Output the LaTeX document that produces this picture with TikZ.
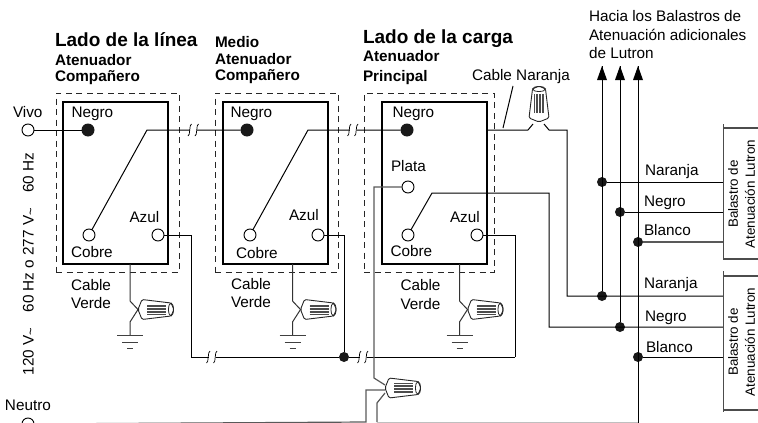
\documentclass[tikz,border=0pt]{standalone}
\usepackage{fontspec}
\setmainfont{Liberation Sans}
\newcommand{\smalltilde}{{\fontsize{13}{13}\selectfont\raisebox{-1.5pt}{\textasciitilde}}}
\tikzset{
  wirenut/.pic={
    \draw[black!85,fill=white,line width=0.9pt,rounded corners=1.5pt] (0,0) -- (4,-10) -- (33,-6.5) -- (36,0) -- (33,6.5) -- (4,10) -- cycle;
    \draw[black!85,line width=0.8pt] (33,0) ellipse (2.5pt and 6.5pt);
    \foreach \ribY in {-4.5,-3,-1.5,0,1.5,3,4.5}
      \draw[black!70,line width=0.8pt] (9,\ribY) -- (28,\ribY);
  },
  wirebreak/.pic={
    \fill[white] (-3.5,-3) rectangle (3.5,3);
    \draw[black,line width=0.7pt] (-5.5,6) .. controls (-3,6) and (-4.5,-6) .. (-2,-6);
    \draw[black,line width=0.7pt] (1.5,6) .. controls (4,6) and (2.5,-6) .. (5,-6);
  },
  grounding/.pic={
    \draw[black!75,line width=0.9pt] (-13,0) -- (13,0);
    \draw[black!75,line width=0.9pt] (-8,7) -- (8,7);
    \draw[black!75,line width=0.9pt] (-3,13) -- (3,13);
  }
}
\begin{document}
\begin{tikzpicture}[x=1pt, y=-1pt,
      every node/.append style={inner sep=0pt,outer sep=0pt,font=\fontsize{15.3}{18.5}\selectfont}]
    \tikzstyle{term} = [circle,draw=black,fill=white,line width=0.9pt,minimum size=12pt]
    \tikzstyle{dotblack} = [circle,fill=black!90,minimum size=13pt]
    \tikzstyle{joint} = [circle,fill=black!90,minimum size=10pt]
    \tikzstyle{unitbox} = [draw=black,line width=1.4pt,minimum width=105pt,minimum height=162pt]
    \tikzstyle{unitzone} = [draw=black!85,line width=1pt,dash pattern=on 6pt off 4.5pt]
    \tikzstyle{lbl} = [anchor=base west]
    \tikzstyle{para} = [anchor=base west,align=left]
    \tikzstyle{head} = [anchor=base west,align=left,font=\fontsize{15.3}{16.5}\selectfont\bfseries]
    \tikzstyle{bighead} = [anchor=base west,font=\fontsize{19}{20}\selectfont\bfseries]
    \tikzstyle{ballast} = [rotate=90,align=center,font=\fontsize{13.4}{17}\selectfont]
    \tikzstyle{wire} = [draw=black,line width=1pt]
    \tikzstyle{graywire} = [draw=black!65,line width=1.2pt]
    \tikzstyle{rail} = [draw=black!70,line width=1.2pt]
    \useasboundingbox (0,0) rectangle (758,423);

    \node (zoneA) [unitzone,minimum width=123pt,minimum height=179pt] at (117.5,182.5) {};
    \node (zoneB) [unitzone,minimum width=123pt,minimum height=179pt] at (276.5,182.5) {};
    \node (zoneC) [unitzone,minimum width=130pt,minimum height=179pt] at (429,182.5) {};
    \node (boxA) [unitbox] at (115.5,183) {};
    \node (boxB) [unitbox] at (275.5,183) {};
    \node (boxC) [unitbox] at (434.5,183) {};

    \node (vivo) [term] at (28,130) {};
    \node (neutro) [term] at (28,424) {};
    \node (negroA) [dotblack] at (88,130) {};
    \node (negroB) [dotblack] at (247,130) {};
    \node (negroC) [dotblack] at (407,130) {};
    \node (cobreA) [term] at (89,235) {};
    \node (cobreB) [term] at (250,235) {};
    \node (cobreC) [term] at (408,235) {};
    \node (azulA) [term] at (158,235) {};
    \node (azulB) [term] at (318,235) {};
    \node (azulC) [term] at (477,235) {};
    \node (plata) [term] at (408,187) {};
    \node (jointAzul) [joint] at (344,357) {};
    \node (jointNaranjaA) [joint] at (602,182) {};
    \node (jointNegroA) [joint] at (620,212) {};
    \node (jointBlancoA) [joint] at (638,242) {};
    \node (jointNaranjaB) [joint] at (602,296) {};
    \node (jointNegroB) [joint] at (620,327) {};
    \node (jointBlancoB) [joint] at (638,357) {};

    \coordinate (swA) at (147,130);
    \coordinate (swB) at (308,130);
    \coordinate (swC) at (432,193);
    \coordinate (swCcorner) at (549,193);
    \coordinate (busA) at (191,357);
    \coordinate (busC) at (515,357);
    \coordinate (platacorner) at (374,187);
    \coordinate (platabend) at (374,378);
    \coordinate (naranjaOut) at (487,130);
    \coordinate (naranjaIn) at (528,130);
    \coordinate (naranjaNutL) at (533,124);
    \coordinate (naranjaNutR) at (544,124);
    \coordinate (naranjaOn) at (549,130);
    \coordinate (naranjaCorner) at (567,130);
    \coordinate (leaderTop) at (513,86);
    \coordinate (leaderEnd) at (503,128);
    \coordinate (negroCorner) at (549,327);
    \coordinate (naranjaLow) at (567,296);
    \coordinate (arrowA) at (602,66);
    \coordinate (arrowB) at (620,66);
    \coordinate (arrowC) at (638,66);
    \coordinate (railTopA) at (723.5,124);
    \coordinate (railEndA) at (723.5,259);
    \coordinate (railTopB) at (723.5,271);
    \coordinate (railEndB) at (723.5,412);
    \coordinate (tickA) at (758,128);
    \coordinate (tickB) at (758,259);
    \coordinate (tickC) at (758,276);
    \coordinate (tickD) at (758,410);
    \coordinate (railNaranjaA) at (723.5,182);
    \coordinate (railNegroA) at (723.5,212);
    \coordinate (railBlancoA) at (723.5,242);
    \coordinate (railNaranjaB) at (723.5,296);
    \coordinate (railNegroB) at (723.5,327);
    \coordinate (railBlancoB) at (723.5,357);
    \coordinate (blancoEnd) at (638,423);
    \coordinate (neutroEnd) at (366,422);
    \coordinate (neutroNut) at (385,390);
    \coordinate (blancoNutA) at (385,393);
    \coordinate (blancoNutB) at (377,403);
    \coordinate (blancoFoot) at (377,422);
    \coordinate (neutroTurn) at (366,390);
    \coordinate (platahit) at (385,385);

    \draw[wire] (vivo) -- (negroA);
    \draw[wire] (cobreA) -- (swA) -- (negroB);
    \draw[wire] (cobreB) -- (swB) -- (negroC);
    \draw[wire] (cobreC) -- (swC) -- (swCcorner) -- (negroCorner) -- (railNegroB);
    \draw[wire] (azulA) -| (busA) -- (jointAzul) -- (busC);
    \draw[wire] (azulB) -| (jointAzul);
    \draw[wire] (azulC) -| (busC);
    \draw[wire] (naranjaOut) -- (naranjaIn) -- (naranjaNutL);
    \draw[wire] (naranjaNutR) -- (naranjaOn) -- (naranjaCorner) -- (naranjaLow) -- (railNaranjaB);
    \draw[wire] (leaderTop) -- (leaderEnd);
    \draw[graywire] (plata) -- (platacorner) -- (platabend) -- (platahit);
    \draw[graywire] (neutro) -- (neutroEnd) -- (neutroTurn) -- (neutroNut);
    \draw[graywire] (blancoFoot) -- (blancoNutB) -- (blancoNutA);
    \draw[black!25,line width=1pt] (blancoFoot) -- (blancoEnd |- blancoFoot);
    \draw[wire] (jointNaranjaB) -- (arrowA);
    \draw[wire] (jointNegroB) -- (arrowB);
    \draw[wire] (blancoEnd) -- (arrowC);
    \draw[wire] (jointNaranjaA) -- (railNaranjaA);
    \draw[wire] (jointNegroA) -- (railNegroA);
    \draw[graywire] (jointBlancoA) -- (railBlancoA);
    \draw[wire] (jointBlancoB) -- (railBlancoB);
    \draw[rail] (railTopA) -- (railEndA) -- (tickB);
    \draw[rail] (railTopA |- tickA) -- (tickA);
    \draw[rail] (railTopB) -- (railEndB);
    \draw[rail] (railTopB |- tickC) -- (tickC);
    \draw[rail] (railTopB |- tickD) -- (tickD);

    \fill[black] (arrowA) -- ++(5,14) -- ++(-10,0) -- cycle;
    \fill[black] (arrowB) -- ++(5,14) -- ++(-10,0) -- cycle;
    \fill[black] (arrowC) -- ++(5,14) -- ++(-10,0) -- cycle;

    \coordinate (greenA) at (130,264);
    \coordinate (greenAb) at (130,301);
    \coordinate (greenAc) at (130,322);
    \coordinate (groundA) at (130,335.5);
    \coordinate (nutA) at (138,309.5);
    \coordinate (greenB) at (292.5,264);
    \coordinate (greenBb) at (292.5,301);
    \coordinate (greenBc) at (292.5,322);
    \coordinate (groundB) at (292.5,335.5);
    \coordinate (nutB) at (300.5,309.5);
    \coordinate (greenC) at (459.5,264);
    \coordinate (greenCb) at (459.5,301);
    \coordinate (greenCc) at (459.5,322);
    \coordinate (groundC) at (459.5,335.5);
    \coordinate (nutC) at (467.5,309.5);

    \draw[wire,draw=black!80] (greenA) -- (greenAb) -- (nutA) -- (greenAc) -- (groundA);
    \draw[wire,draw=black!80] (greenB) -- (greenBb) -- (nutB) -- (greenBc) -- (groundB);
    \draw[wire,draw=black!80] (greenC) -- (greenCb) -- (nutC) -- (greenCc) -- (groundC);
    \pic at (groundA) {grounding};
    \pic at (groundB) {grounding};
    \pic at (groundC) {grounding};
    \pic at (nutA) {wirenut};
    \pic at (nutB) {wirenut};
    \pic at (nutC) {wirenut};
    \pic at (385,388) {wirenut};
    \pic[rotate=90] at (539,122) {wirenut};

    \pic at (193.5,130) {wirebreak};
    \pic at (353,130) {wirebreak};
    \pic at (212,357) {wirebreak};
    \pic at (363,357) {wirebreak};

    \node (txtLadoLinea) [bighead] at (55,46.5) {Lado de la línea};
    \node (txtAtenA) [head] at (55,81.5) {Atenuador\\Compañero};
    \node (txtMedio) [head] at (215,80.5) {Medio\\Atenuador\\Compañero};
    \node (txtLadoCarga) [bighead] at (363,43) {Lado de la carga};
    \node (txtAtenC) [head] at (363,61.5) {Atenuador};
    \node (txtPrincipal) [head] at (363,81.5) {Principal};
    \node (txtNaranjaCable) [lbl] at (472,80) {Cable Naranja};
    \node (txtHacia) [para] at (589,58.5) {Hacia los Balastros de\\Atenuación adicionales\\de Lutron};
    \node (txtVivo) [lbl] at (13,117.5) {Vivo};
    \node (txtNeutro) [lbl] at (5,410) {Neutro};
    \node (txtVolt) [rotate=90,anchor=base,font=\fontsize{15.3}{18}\selectfont] at (33.5,264) {120 V\smalltilde\hspace{15pt}60 Hz o 277 V\smalltilde\hspace{15pt}60 Hz};
    \node (txtNegroA) [lbl] at (71.5,117.5) {Negro};
    \node (txtNegroB) [lbl] at (230.5,117.5) {Negro};
    \node (txtNegroC) [lbl] at (392.5,117.5) {Negro};
    \node (txtPlata) [lbl] at (391,171.5) {Plata};
    \node (txtAzulA) [lbl] at (129.5,222.5) {Azul};
    \node (txtAzulB) [lbl] at (289,220.5) {Azul};
    \node (txtAzulC) [lbl] at (450,222.5) {Azul};
    \node (txtCobreA) [lbl] at (71,257.5) {Cobre};
    \node (txtCobreB) [lbl] at (236,258.5) {Cobre};
    \node (txtCobreC) [lbl] at (390.5,256.5) {Cobre};
    \node (txtCableA) [para] at (71,308.5) {Cable\\Verde};
    \node (txtCableB) [para] at (231,307.5) {Cable\\Verde};
    \node (txtCableC) [para] at (400.5,309) {Cable\\Verde};
    \node (txtNaranjaA) [lbl] at (645,175) {Naranja};
    \node (txtNegroD) [lbl] at (644,206.5) {Negro};
    \node (txtBlancoA) [lbl] at (644,235) {Blanco};
    \node (txtNaranjaB) [lbl] at (644,288) {Naranja};
    \node (txtNegroE) [lbl] at (645,321) {Negro};
    \node (txtBlancoB) [lbl] at (646,352) {Blanco};
    \node (txtBallastA) [ballast] at (741.5,194) {Balastro de\\Atenuación Lutron};
    \node (txtBallastB) [ballast] at (741.5,342) {Balastro de\\Atenuación Lutron};
  \end{tikzpicture}
\end{document}
